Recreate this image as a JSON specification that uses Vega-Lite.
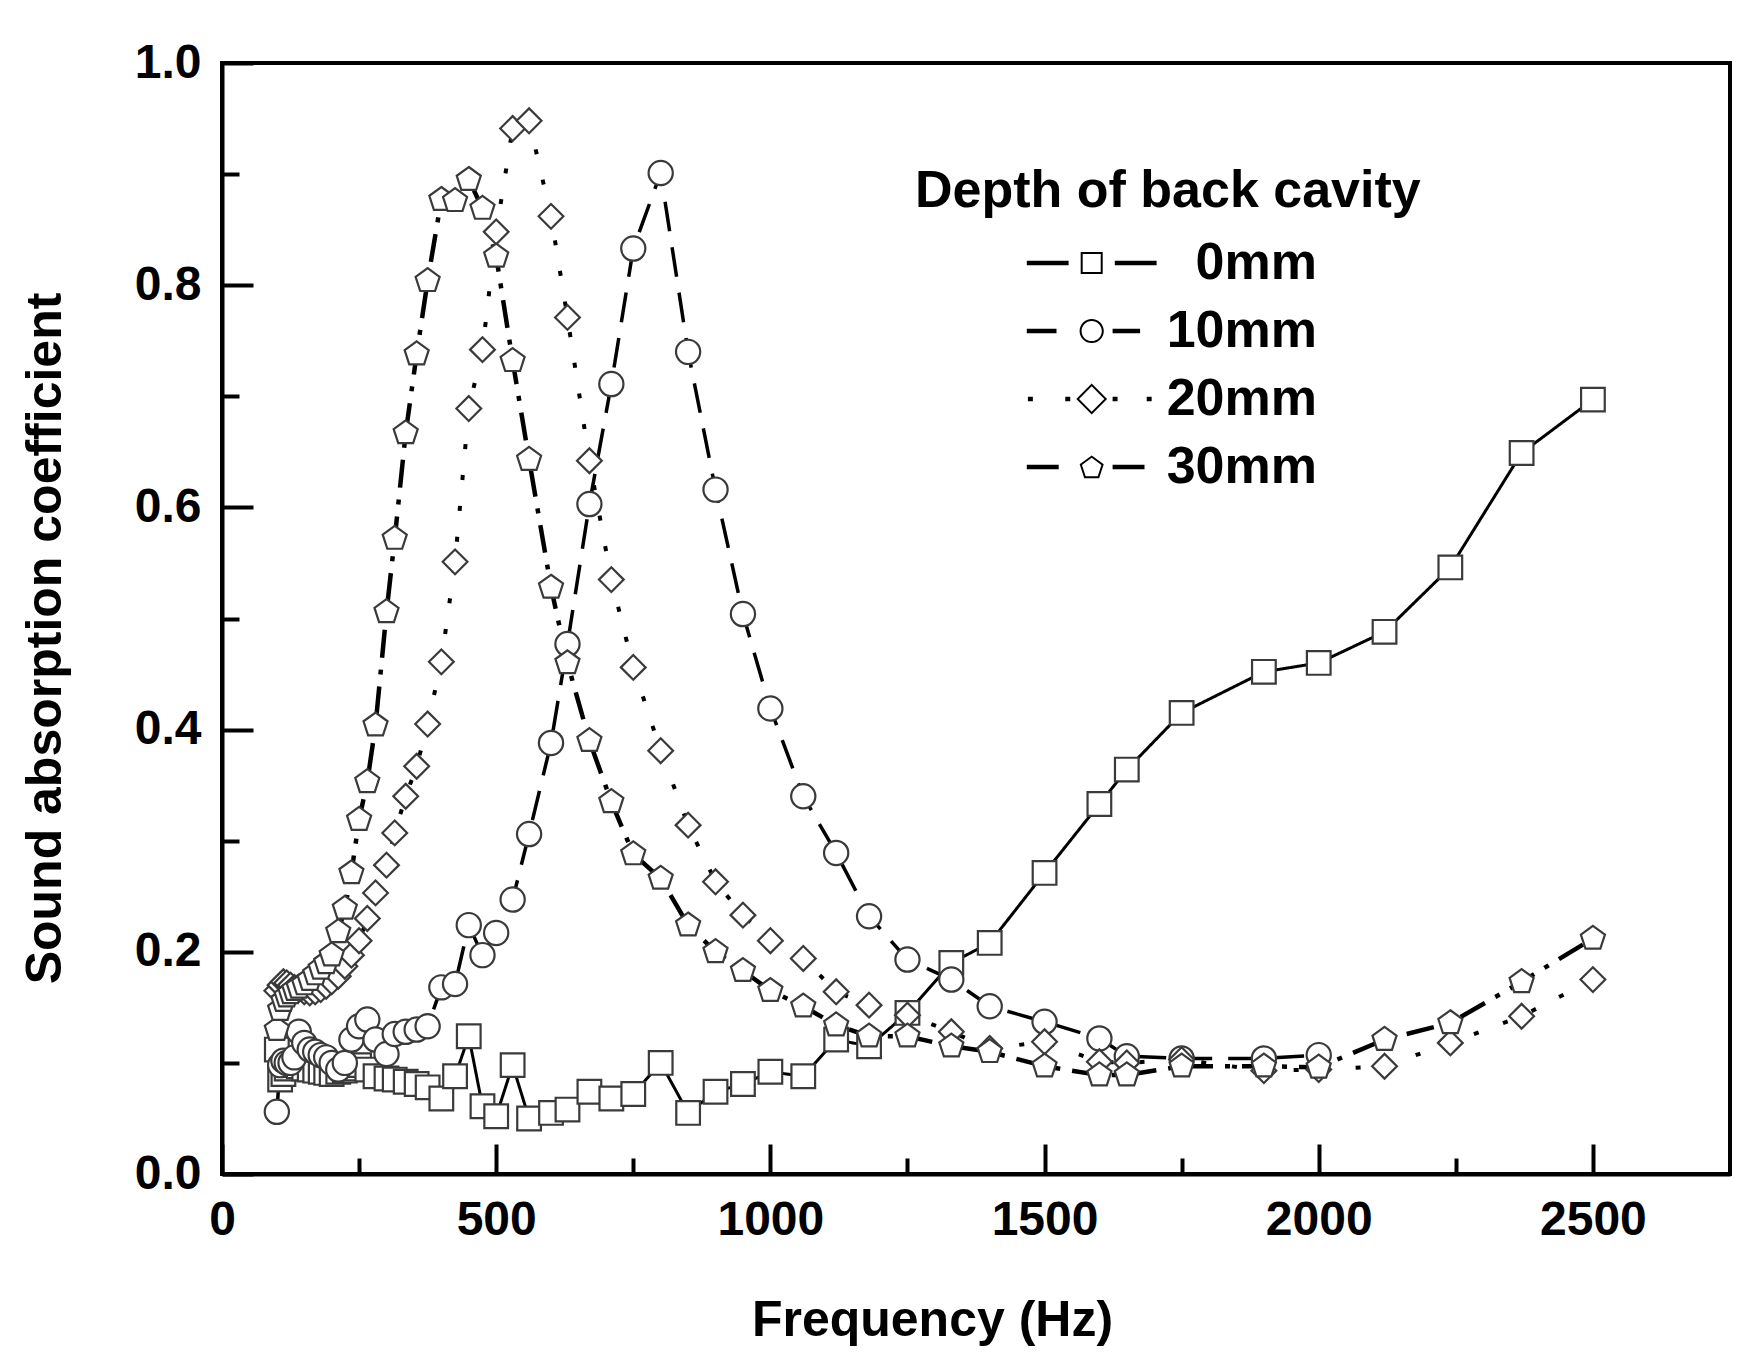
{
  "$schema": "https://vega.github.io/schema/vega-lite/v6.json",
  "width": 1508,
  "height": 1111,
  "autosize": "none",
  "padding": {"left": 222, "top": 63, "right": 28, "bottom": 178},
  "background": "white",
  "config": {
    "font": "Liberation Sans",
    "view": {"stroke": "black", "strokeWidth": 4},
    "axis": {
      "grid": false,
      "domainColor": "black",
      "domainWidth": 4,
      "tickColor": "black",
      "tickWidth": 4,
      "labelFont": "Liberation Sans",
      "labelFontWeight": "bold",
      "labelFontSize": 48,
      "labelColor": "black",
      "labelFlush": false,
      "labelOverlap": false,
      "titleFont": "Liberation Sans",
      "titleFontWeight": "bold",
      "titleFontSize": 50,
      "titleColor": "black"
    }
  },
  "datasets": {
    "absorption": [
      {"f": 100, "a": 0.112, "d": "0mm"}, {"f": 106, "a": 0.085, "d": "0mm"}, {"f": 112, "a": 0.09, "d": "0mm"},
      {"f": 118, "a": 0.095, "d": "0mm"}, {"f": 125, "a": 0.1, "d": "0mm"}, {"f": 132, "a": 0.098, "d": "0mm"},
      {"f": 140, "a": 0.097, "d": "0mm"}, {"f": 150, "a": 0.095, "d": "0mm"}, {"f": 160, "a": 0.094, "d": "0mm"},
      {"f": 170, "a": 0.093, "d": "0mm"}, {"f": 180, "a": 0.092, "d": "0mm"}, {"f": 190, "a": 0.091, "d": "0mm"},
      {"f": 200, "a": 0.09, "d": "0mm"}, {"f": 212, "a": 0.092, "d": "0mm"}, {"f": 224, "a": 0.093, "d": "0mm"},
      {"f": 236, "a": 0.095, "d": "0mm"}, {"f": 250, "a": 0.098, "d": "0mm"}, {"f": 265, "a": 0.094, "d": "0mm"},
      {"f": 280, "a": 0.088, "d": "0mm"}, {"f": 300, "a": 0.086, "d": "0mm"}, {"f": 315, "a": 0.085, "d": "0mm"},
      {"f": 335, "a": 0.083, "d": "0mm"}, {"f": 355, "a": 0.081, "d": "0mm"}, {"f": 375, "a": 0.078, "d": "0mm"},
      {"f": 400, "a": 0.068, "d": "0mm"}, {"f": 425, "a": 0.088, "d": "0mm"}, {"f": 450, "a": 0.124, "d": "0mm"},
      {"f": 475, "a": 0.061, "d": "0mm"}, {"f": 500, "a": 0.052, "d": "0mm"}, {"f": 530, "a": 0.098, "d": "0mm"},
      {"f": 560, "a": 0.05, "d": "0mm"}, {"f": 600, "a": 0.055, "d": "0mm"}, {"f": 630, "a": 0.058, "d": "0mm"},
      {"f": 670, "a": 0.074, "d": "0mm"}, {"f": 710, "a": 0.068, "d": "0mm"}, {"f": 750, "a": 0.072, "d": "0mm"},
      {"f": 800, "a": 0.1, "d": "0mm"}, {"f": 850, "a": 0.055, "d": "0mm"}, {"f": 900, "a": 0.074, "d": "0mm"},
      {"f": 950, "a": 0.081, "d": "0mm"}, {"f": 1000, "a": 0.092, "d": "0mm"}, {"f": 1060, "a": 0.088, "d": "0mm"},
      {"f": 1120, "a": 0.121, "d": "0mm"}, {"f": 1180, "a": 0.115, "d": "0mm"}, {"f": 1250, "a": 0.145, "d": "0mm"},
      {"f": 1330, "a": 0.19, "d": "0mm"}, {"f": 1400, "a": 0.208, "d": "0mm"}, {"f": 1500, "a": 0.271, "d": "0mm"},
      {"f": 1600, "a": 0.333, "d": "0mm"}, {"f": 1650, "a": 0.364, "d": "0mm"}, {"f": 1750, "a": 0.415, "d": "0mm"},
      {"f": 1900, "a": 0.452, "d": "0mm"}, {"f": 2000, "a": 0.46, "d": "0mm"}, {"f": 2120, "a": 0.488, "d": "0mm"},
      {"f": 2240, "a": 0.546, "d": "0mm"}, {"f": 2370, "a": 0.649, "d": "0mm"}, {"f": 2500, "a": 0.697, "d": "0mm"},

      {"f": 100, "a": 0.056, "d": "10mm"}, {"f": 106, "a": 0.098, "d": "10mm"}, {"f": 112, "a": 0.102, "d": "10mm"},
      {"f": 118, "a": 0.1, "d": "10mm"}, {"f": 125, "a": 0.1, "d": "10mm"}, {"f": 132, "a": 0.105, "d": "10mm"},
      {"f": 140, "a": 0.128, "d": "10mm"}, {"f": 150, "a": 0.118, "d": "10mm"}, {"f": 160, "a": 0.112, "d": "10mm"},
      {"f": 170, "a": 0.11, "d": "10mm"}, {"f": 180, "a": 0.107, "d": "10mm"}, {"f": 190, "a": 0.105, "d": "10mm"},
      {"f": 200, "a": 0.1, "d": "10mm"}, {"f": 212, "a": 0.094, "d": "10mm"}, {"f": 224, "a": 0.1, "d": "10mm"},
      {"f": 236, "a": 0.121, "d": "10mm"}, {"f": 250, "a": 0.133, "d": "10mm"}, {"f": 265, "a": 0.139, "d": "10mm"},
      {"f": 280, "a": 0.121, "d": "10mm"}, {"f": 300, "a": 0.108, "d": "10mm"}, {"f": 315, "a": 0.126, "d": "10mm"},
      {"f": 335, "a": 0.128, "d": "10mm"}, {"f": 355, "a": 0.13, "d": "10mm"}, {"f": 375, "a": 0.133, "d": "10mm"},
      {"f": 400, "a": 0.168, "d": "10mm"}, {"f": 425, "a": 0.171, "d": "10mm"}, {"f": 450, "a": 0.224, "d": "10mm"},
      {"f": 475, "a": 0.197, "d": "10mm"}, {"f": 500, "a": 0.217, "d": "10mm"}, {"f": 530, "a": 0.247, "d": "10mm"},
      {"f": 560, "a": 0.306, "d": "10mm"}, {"f": 600, "a": 0.388, "d": "10mm"}, {"f": 630, "a": 0.477, "d": "10mm"},
      {"f": 670, "a": 0.603, "d": "10mm"}, {"f": 710, "a": 0.711, "d": "10mm"}, {"f": 750, "a": 0.833, "d": "10mm"},
      {"f": 800, "a": 0.901, "d": "10mm"}, {"f": 850, "a": 0.74, "d": "10mm"}, {"f": 900, "a": 0.616, "d": "10mm"},
      {"f": 950, "a": 0.504, "d": "10mm"}, {"f": 1000, "a": 0.419, "d": "10mm"}, {"f": 1060, "a": 0.34, "d": "10mm"},
      {"f": 1120, "a": 0.289, "d": "10mm"}, {"f": 1180, "a": 0.232, "d": "10mm"}, {"f": 1250, "a": 0.193, "d": "10mm"},
      {"f": 1330, "a": 0.175, "d": "10mm"}, {"f": 1400, "a": 0.151, "d": "10mm"}, {"f": 1500, "a": 0.137, "d": "10mm"},
      {"f": 1600, "a": 0.122, "d": "10mm"}, {"f": 1650, "a": 0.106, "d": "10mm"}, {"f": 1750, "a": 0.104, "d": "10mm"},
      {"f": 1900, "a": 0.104, "d": "10mm"}, {"f": 2000, "a": 0.107, "d": "10mm"},

      {"f": 100, "a": 0.165, "d": "20mm"}, {"f": 106, "a": 0.17, "d": "20mm"}, {"f": 112, "a": 0.173, "d": "20mm"},
      {"f": 118, "a": 0.172, "d": "20mm"}, {"f": 125, "a": 0.17, "d": "20mm"}, {"f": 132, "a": 0.168, "d": "20mm"},
      {"f": 140, "a": 0.166, "d": "20mm"}, {"f": 150, "a": 0.164, "d": "20mm"}, {"f": 160, "a": 0.163, "d": "20mm"},
      {"f": 170, "a": 0.164, "d": "20mm"}, {"f": 180, "a": 0.166, "d": "20mm"}, {"f": 190, "a": 0.169, "d": "20mm"},
      {"f": 200, "a": 0.173, "d": "20mm"}, {"f": 212, "a": 0.178, "d": "20mm"}, {"f": 224, "a": 0.187, "d": "20mm"},
      {"f": 236, "a": 0.197, "d": "20mm"}, {"f": 250, "a": 0.21, "d": "20mm"}, {"f": 265, "a": 0.23, "d": "20mm"},
      {"f": 280, "a": 0.253, "d": "20mm"}, {"f": 300, "a": 0.278, "d": "20mm"}, {"f": 315, "a": 0.307, "d": "20mm"},
      {"f": 335, "a": 0.34, "d": "20mm"}, {"f": 355, "a": 0.367, "d": "20mm"}, {"f": 375, "a": 0.405, "d": "20mm"},
      {"f": 400, "a": 0.461, "d": "20mm"}, {"f": 425, "a": 0.551, "d": "20mm"}, {"f": 450, "a": 0.689, "d": "20mm"},
      {"f": 475, "a": 0.742, "d": "20mm"}, {"f": 500, "a": 0.848, "d": "20mm"}, {"f": 530, "a": 0.941, "d": "20mm"},
      {"f": 560, "a": 0.948, "d": "20mm"}, {"f": 600, "a": 0.862, "d": "20mm"}, {"f": 630, "a": 0.771, "d": "20mm"},
      {"f": 670, "a": 0.642, "d": "20mm"}, {"f": 710, "a": 0.535, "d": "20mm"}, {"f": 750, "a": 0.456, "d": "20mm"},
      {"f": 800, "a": 0.381, "d": "20mm"}, {"f": 850, "a": 0.314, "d": "20mm"}, {"f": 900, "a": 0.263, "d": "20mm"},
      {"f": 950, "a": 0.233, "d": "20mm"}, {"f": 1000, "a": 0.21, "d": "20mm"}, {"f": 1060, "a": 0.194, "d": "20mm"},
      {"f": 1120, "a": 0.164, "d": "20mm"}, {"f": 1180, "a": 0.152, "d": "20mm"}, {"f": 1250, "a": 0.143, "d": "20mm"},
      {"f": 1330, "a": 0.128, "d": "20mm"}, {"f": 1400, "a": 0.113, "d": "20mm"}, {"f": 1500, "a": 0.119, "d": "20mm"},
      {"f": 1600, "a": 0.101, "d": "20mm"}, {"f": 1650, "a": 0.1, "d": "20mm"}, {"f": 1750, "a": 0.103, "d": "20mm"},
      {"f": 1900, "a": 0.093, "d": "20mm"}, {"f": 2000, "a": 0.094, "d": "20mm"}, {"f": 2120, "a": 0.097, "d": "20mm"},
      {"f": 2240, "a": 0.118, "d": "20mm"}, {"f": 2370, "a": 0.142, "d": "20mm"}, {"f": 2500, "a": 0.175, "d": "20mm"},

      {"f": 100, "a": 0.13, "d": "30mm"}, {"f": 106, "a": 0.148, "d": "30mm"}, {"f": 112, "a": 0.156, "d": "30mm"},
      {"f": 118, "a": 0.16, "d": "30mm"}, {"f": 125, "a": 0.163, "d": "30mm"}, {"f": 132, "a": 0.166, "d": "30mm"},
      {"f": 140, "a": 0.168, "d": "30mm"}, {"f": 150, "a": 0.171, "d": "30mm"}, {"f": 160, "a": 0.175, "d": "30mm"},
      {"f": 170, "a": 0.18, "d": "30mm"}, {"f": 180, "a": 0.185, "d": "30mm"}, {"f": 190, "a": 0.19, "d": "30mm"},
      {"f": 200, "a": 0.197, "d": "30mm"}, {"f": 212, "a": 0.218, "d": "30mm"}, {"f": 224, "a": 0.239, "d": "30mm"},
      {"f": 236, "a": 0.271, "d": "30mm"}, {"f": 250, "a": 0.319, "d": "30mm"}, {"f": 265, "a": 0.353, "d": "30mm"},
      {"f": 280, "a": 0.404, "d": "30mm"}, {"f": 300, "a": 0.506, "d": "30mm"}, {"f": 315, "a": 0.572, "d": "30mm"},
      {"f": 335, "a": 0.667, "d": "30mm"}, {"f": 355, "a": 0.738, "d": "30mm"}, {"f": 375, "a": 0.804, "d": "30mm"},
      {"f": 400, "a": 0.877, "d": "30mm"}, {"f": 425, "a": 0.876, "d": "30mm"}, {"f": 450, "a": 0.895, "d": "30mm"},
      {"f": 475, "a": 0.869, "d": "30mm"}, {"f": 500, "a": 0.826, "d": "30mm"}, {"f": 530, "a": 0.732, "d": "30mm"},
      {"f": 560, "a": 0.643, "d": "30mm"}, {"f": 600, "a": 0.528, "d": "30mm"}, {"f": 630, "a": 0.46, "d": "30mm"},
      {"f": 670, "a": 0.39, "d": "30mm"}, {"f": 710, "a": 0.335, "d": "30mm"}, {"f": 750, "a": 0.288, "d": "30mm"},
      {"f": 800, "a": 0.266, "d": "30mm"}, {"f": 850, "a": 0.224, "d": "30mm"}, {"f": 900, "a": 0.2, "d": "30mm"},
      {"f": 950, "a": 0.183, "d": "30mm"}, {"f": 1000, "a": 0.165, "d": "30mm"}, {"f": 1060, "a": 0.151, "d": "30mm"},
      {"f": 1120, "a": 0.134, "d": "30mm"}, {"f": 1180, "a": 0.124, "d": "30mm"}, {"f": 1250, "a": 0.124, "d": "30mm"},
      {"f": 1330, "a": 0.115, "d": "30mm"}, {"f": 1400, "a": 0.11, "d": "30mm"}, {"f": 1500, "a": 0.097, "d": "30mm"},
      {"f": 1600, "a": 0.089, "d": "30mm"}, {"f": 1650, "a": 0.089, "d": "30mm"}, {"f": 1750, "a": 0.097, "d": "30mm"},
      {"f": 1900, "a": 0.097, "d": "30mm"}, {"f": 2000, "a": 0.096, "d": "30mm"}, {"f": 2120, "a": 0.121, "d": "30mm"},
      {"f": 2240, "a": 0.136, "d": "30mm"}, {"f": 2370, "a": 0.173, "d": "30mm"}, {"f": 2500, "a": 0.212, "d": "30mm"}
    ]
  },
  "data": {"name": "absorption"},
  "encoding": {
    "x": {
      "field": "f",
      "type": "quantitative",
      "scale": {"domain": [0, 2750], "nice": false, "zero": false},
      "axis": {
        "title": "Frequency (Hz)",
        "values": [0, 250, 500, 750, 1000, 1250, 1500, 1750, 2000, 2250, 2500],
        "tickSize": {"condition": {"test": "datum.value % 500 == 0", "value": -30}, "value": -16},
        "labelExpr": "datum.value % 500 == 0 ? format(datum.value, 'd') : ''",
        "labelBaseline": "alphabetic",
        "labelPadding": 90,
        "titleX": 710,
        "titleY": 161,
        "titleBaseline": "alphabetic"
      }
    },
    "y": {
      "field": "a",
      "type": "quantitative",
      "scale": {"domain": [0, 1], "nice": false},
      "axis": {
        "title": "Sound absorption coefficient",
        "values": [0, 0.1, 0.2, 0.3, 0.4, 0.5, 0.6, 0.7, 0.8, 0.9, 1.0],
        "tickSize": {"condition": {"test": "round(datum.value * 10) % 2 == 0", "value": -31}, "value": -17},
        "labelExpr": "round(datum.value * 10) % 2 == 0 ? format(datum.value, '.1f') : ''",
        "labelPadding": 52,
        "titleX": -162,
        "titleY": 575,
        "titleBaseline": "alphabetic"
      }
    }
  },
  "layer": [
    {
      "mark": {"type": "line", "color": "black"},
      "encoding": {
        "strokeDash": {
          "field": "d",
          "type": "nominal",
          "scale": {
            "domain": ["0mm", "10mm", "20mm", "30mm"],
            "range": [[1, 0], [30, 16], [5, 26], [28, 12, 5, 12]]
          },
          "legend": null
        },
        "strokeWidth": {
          "field": "d",
          "type": "ordinal",
          "scale": {"domain": ["0mm", "10mm", "20mm", "30mm"], "range": [3, 4.5, 4.5, 4.5]},
          "legend": null
        }
      }
    },
    {
      "mark": {"type": "point", "filled": false, "fill": "white", "stroke": "#3a3a3a", "strokeWidth": 2.2, "opacity": 1},
      "encoding": {
        "shape": {
          "field": "d",
          "type": "nominal",
          "scale": {
            "domain": ["0mm", "10mm", "20mm", "30mm"],
            "range": ["square", "circle", "diamond", "M0,-1L0.951,-0.309L0.588,0.809L-0.588,0.809L-0.951,-0.309Z"]
          },
          "legend": null
        },
        "size": {
          "field": "d",
          "type": "ordinal",
          "scale": {"domain": ["0mm", "10mm", "20mm", "30mm"], "range": [560, 640, 840, 760]},
          "legend": null
        }
      }
    },
    {
      "transform": [{"filter": "datum.f == 100"}],
      "mark": {"type": "point", "filled": true, "color": "black", "opacity": 0, "size": 484},
      "encoding": {
        "shape": {
          "field": "d",
          "type": "nominal",
          "scale": {
            "domain": ["0mm", "10mm", "20mm", "30mm"],
            "range": [
              "M7.8,-0.2H11.6V0.2H7.8Z M15.8,-0.2H19.6V0.2H15.8Z M12.7,-1H14.7V1H12.7Z M12.88,-0.82V0.82H14.52V-0.82Z",
              "M7.8,-0.2H10.5V0.2H7.8Z M15.6,-0.2H18.1V0.2H15.6Z M12.6,0A1.1,1.1 0 1,1 14.8,0A1.1,1.1 0 1,1 12.6,0Z M12.78,0A0.92,0.92 0 1,0 14.62,0A0.92,0.92 0 1,0 12.78,0Z",
              "M7.9,-0.2H8.35V0.2H7.9Z M11.3,-0.2H11.75V0.2H11.3Z M15.6,-0.2H16.05V0.2H15.6Z M18.7,-0.2H19.15V0.2H18.7Z M12.3,0L13.7,-1.4L15.1,0L13.7,1.4Z M12.55,0L13.7,1.15L14.85,0L13.7,-1.15Z",
              "M7.8,-0.2H10.7V0.2H7.8Z M15.6,-0.2H18.5V0.2H15.6Z M13.7,-1.05L14.794,-0.255L14.376,1.03L13.024,1.03L12.606,-0.255Z M13.7,-0.83L12.816,-0.187L13.153,0.852L14.247,0.852L14.584,-0.187Z"
            ]
          },
          "legend": {
            "title": "Depth of back cavity",
            "orient": "none",
            "legendX": 693,
            "legendY": 103,
            "padding": 0,
            "titleFont": "Liberation Sans",
            "titleFontSize": 52,
            "titleFontWeight": "bold",
            "titleColor": "black",
            "titleLimit": 900,
            "titlePadding": 19,
            "labelFont": "Liberation Sans",
            "labelFontSize": 52,
            "labelFontWeight": "bold",
            "labelColor": "black",
            "labelAlign": "right",
            "labelOffset": 350,
            "labelLimit": 400,
            "rowPadding": 16,
            "symbolSize": 484,
            "symbolOpacity": 1,
            "symbolFillColor": "black",
            "symbolStrokeWidth": 0
          }
        }
      }
    }
  ],
  "resolve": {"scale": {"shape": "independent"}, "legend": {"shape": "independent"}}
}
